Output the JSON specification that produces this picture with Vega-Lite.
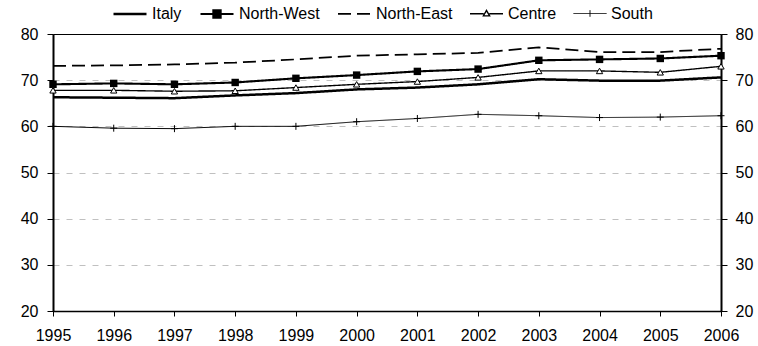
{
  "$schema": "https://vega.github.io/schema/vega-lite/v6.json",
  "width": 668,
  "height": 277,
  "autosize": {"type": "none"},
  "padding": {"left": 53, "top": 34, "right": 37, "bottom": 35},
  "background": "white",
  "config": {
    "font": "Liberation Sans",
    "view": {"stroke": "#000", "strokeWidth": 1},
    "axis": {"labelFont": "Liberation Sans", "labelFontSize": 16, "labelColor": "#000", "domainColor": "#000", "tickColor": "#000", "title": null}
  },
  "data": {"values": [
    {"year": 1995, "region": "Italy", "value": 66.3},
    {"year": 1996, "region": "Italy", "value": 66.2},
    {"year": 1997, "region": "Italy", "value": 66.1},
    {"year": 1998, "region": "Italy", "value": 66.7},
    {"year": 1999, "region": "Italy", "value": 67.2},
    {"year": 2000, "region": "Italy", "value": 68.0},
    {"year": 2001, "region": "Italy", "value": 68.4},
    {"year": 2002, "region": "Italy", "value": 69.1},
    {"year": 2003, "region": "Italy", "value": 70.2},
    {"year": 2004, "region": "Italy", "value": 69.9},
    {"year": 2005, "region": "Italy", "value": 69.9},
    {"year": 2006, "region": "Italy", "value": 70.6},
    {"year": 1995, "region": "North-West", "value": 69.1},
    {"year": 1996, "region": "North-West", "value": 69.3},
    {"year": 1997, "region": "North-West", "value": 69.1},
    {"year": 1998, "region": "North-West", "value": 69.5},
    {"year": 1999, "region": "North-West", "value": 70.4},
    {"year": 2000, "region": "North-West", "value": 71.1},
    {"year": 2001, "region": "North-West", "value": 71.9},
    {"year": 2002, "region": "North-West", "value": 72.4},
    {"year": 2003, "region": "North-West", "value": 74.3},
    {"year": 2004, "region": "North-West", "value": 74.5},
    {"year": 2005, "region": "North-West", "value": 74.7},
    {"year": 2006, "region": "North-West", "value": 75.3},
    {"year": 1995, "region": "North-East", "value": 73.1},
    {"year": 1996, "region": "North-East", "value": 73.2},
    {"year": 1997, "region": "North-East", "value": 73.4},
    {"year": 1998, "region": "North-East", "value": 73.8},
    {"year": 1999, "region": "North-East", "value": 74.5},
    {"year": 2000, "region": "North-East", "value": 75.3},
    {"year": 2001, "region": "North-East", "value": 75.6},
    {"year": 2002, "region": "North-East", "value": 75.9},
    {"year": 2003, "region": "North-East", "value": 77.1},
    {"year": 2004, "region": "North-East", "value": 76.1},
    {"year": 2005, "region": "North-East", "value": 76.1},
    {"year": 2006, "region": "North-East", "value": 76.8},
    {"year": 1995, "region": "Centre", "value": 67.8},
    {"year": 1996, "region": "Centre", "value": 67.8},
    {"year": 1997, "region": "Centre", "value": 67.6},
    {"year": 1998, "region": "Centre", "value": 67.7},
    {"year": 1999, "region": "Centre", "value": 68.4},
    {"year": 2000, "region": "Centre", "value": 69.1},
    {"year": 2001, "region": "Centre", "value": 69.7},
    {"year": 2002, "region": "Centre", "value": 70.6},
    {"year": 2003, "region": "Centre", "value": 72.0},
    {"year": 2004, "region": "Centre", "value": 72.0},
    {"year": 2005, "region": "Centre", "value": 71.7},
    {"year": 2006, "region": "Centre", "value": 73.0},
    {"year": 1995, "region": "South", "value": 60.0},
    {"year": 1996, "region": "South", "value": 59.6},
    {"year": 1997, "region": "South", "value": 59.5},
    {"year": 1998, "region": "South", "value": 60.0},
    {"year": 1999, "region": "South", "value": 60.0},
    {"year": 2000, "region": "South", "value": 61.0},
    {"year": 2001, "region": "South", "value": 61.7},
    {"year": 2002, "region": "South", "value": 62.6},
    {"year": 2003, "region": "South", "value": 62.3},
    {"year": 2004, "region": "South", "value": 61.9},
    {"year": 2005, "region": "South", "value": 62.0},
    {"year": 2006, "region": "South", "value": 62.3}
  ]},
  "encoding": {
    "x": {
      "field": "year", "type": "quantitative",
      "scale": {"domain": [1995, 2006], "nice": false, "zero": false},
      "axis": {
        "values": [1995, 1996, 1997, 1998, 1999, 2000, 2001, 2002, 2003, 2004, 2005, 2006],
        "format": "d", "grid": false, "domainWidth": 1.5, "tickSize": 5, "tickWidth": 1,
        "labelPadding": 11, "labelFlush": false, "labelOverlap": false
      }
    }
  },
  "layer": [
    {
      "mark": {"type": "line", "clip": false},
      "encoding": {
        "y": {
          "field": "value", "type": "quantitative",
          "scale": {"domain": [20, 80], "nice": false, "zero": false},
          "axis": {
            "orient": "left", "values": [20, 30, 40, 50, 60, 70, 80],
            "domainWidth": 2, "tickSize": 6, "tickWidth": 1, "labelPadding": 9,
            "grid": true, "gridDash": [6, 7], "gridWidth": 1,
            "gridColor": {"condition": {"test": "datum.value === 80 || datum.value === 20", "value": "transparent"}, "value": "#c0c0c0"}
          }
        },
        "color": {
          "field": "region", "type": "nominal",
          "scale": {"domain": ["Italy", "North-West", "North-East", "Centre", "South"], "range": ["#000", "#000", "#000", "#000", "#000"]},
          "legend": {
            "orient": "none", "legendX": 59, "legendY": -38, "direction": "horizontal", "title": null,
            "labelFont": "Liberation Sans", "labelFontSize": 16, "labelColor": "#000",
            "symbolSize": 1089, "labelOffset": 4, "columnPadding": 14,
            "symbolStrokeColor": "#000",
            "encode": {
              "symbols": {
                "update": {
                  "shape": {"signal": "datum.value === 'North-West' ? 'M-1,0L1,0M-0.22,-0.22L0.22,-0.22L0.22,0.22L-0.22,0.22Z' : datum.value === 'Centre' ? 'M-1,0L-0.17,0M0.17,0L1,0M0,-0.2L0.19,0.13L-0.19,0.13Z' : datum.value === 'South' ? 'M-1,0L1,0M0,-0.2L0,0.2' : 'M-1,0L1,0'"},
                  "fill": {"signal": "datum.value === 'North-West' ? '#000' : 'transparent'"},
                  "stroke": {"value": "#000"},
                  "strokeWidth": {"signal": "datum.value === 'Italy' ? 2.5 : datum.value === 'North-East' ? 2 : 1"},
                  "strokeDash": {"signal": "datum.value === 'North-East' ? [13, 7] : [1, 0]"},
                  "opacity": {"value": 1}
                }
              }
            }
          }
        },
        "strokeWidth": {
          "field": "region", "type": "nominal",
          "scale": {"domain": ["Italy", "North-West", "North-East", "Centre", "South"], "range": [2.5, 1, 2, 1, 1]},
          "legend": null
        },
        "strokeDash": {
          "field": "region", "type": "nominal",
          "scale": {"domain": ["Italy", "North-West", "North-East", "Centre", "South"], "range": [[1, 0], [1, 0], [13, 6], [1, 0], [1, 0]]},
          "legend": null
        }
      }
    },
    {
      "transform": [{"filter": "datum.region === 'North-West'"}],
      "mark": {"type": "point", "shape": "square", "filled": true, "size": 55, "color": "#000", "opacity": 1, "clip": false},
      "encoding": {
        "y": {
          "field": "value", "type": "quantitative",
          "scale": {"domain": [20, 80], "nice": false, "zero": false},
          "axis": {
            "orient": "right", "values": [20, 30, 40, 50, 60, 70, 80],
            "domainWidth": 2, "tickSize": 6, "tickWidth": 1, "labelPadding": 8, "grid": false
          }
        }
      }
    },
    {
      "transform": [{"filter": "datum.region === 'Centre'"}],
      "mark": {"type": "point", "shape": "triangle-up", "filled": false, "size": 40, "stroke": "#000", "fill": "white", "strokeWidth": 1, "opacity": 1, "clip": false},
      "encoding": {
        "y": {"field": "value", "type": "quantitative", "scale": {"domain": [20, 80], "nice": false, "zero": false}, "axis": null}
      }
    },
    {
      "transform": [{"filter": "datum.region === 'South'"}],
      "mark": {"type": "point", "shape": "M0,-1L0,1M-1,0L1,0", "filled": false, "size": 49, "stroke": "#000", "strokeWidth": 1, "opacity": 1, "clip": false},
      "encoding": {
        "y": {"field": "value", "type": "quantitative", "scale": {"domain": [20, 80], "nice": false, "zero": false}, "axis": null}
      }
    }
  ],
  "resolve": {"axis": {"y": "independent"}}
}
